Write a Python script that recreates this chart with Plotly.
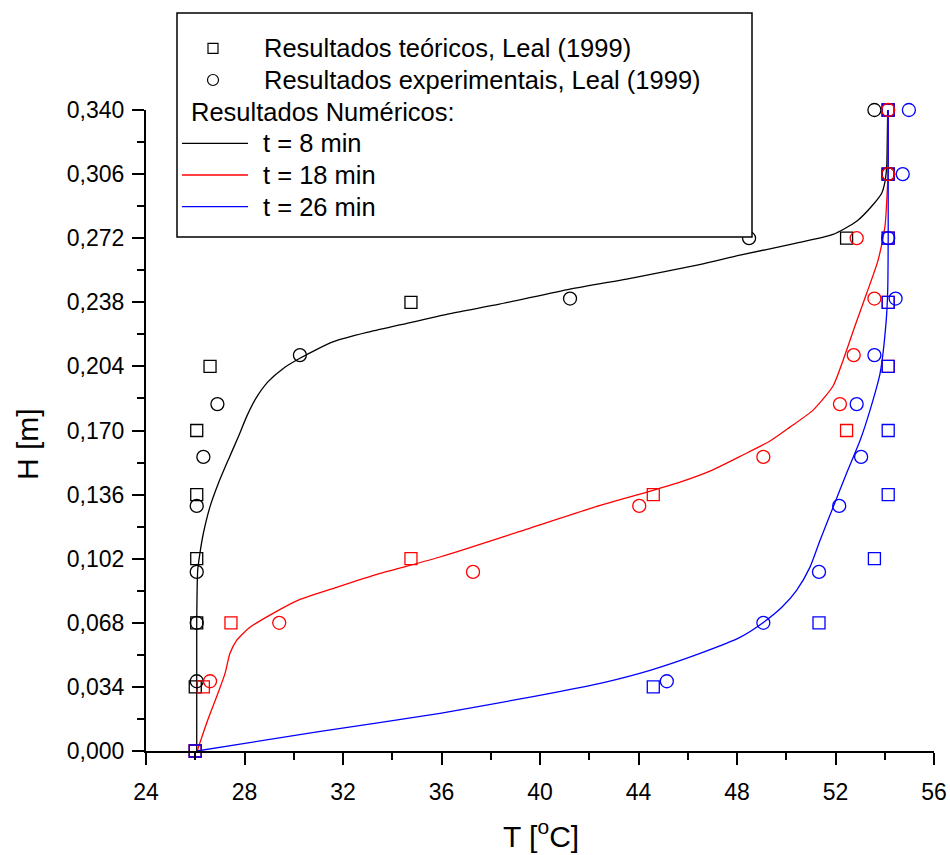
import plotly.graph_objects as go

# ---------------- data ----------------
x_ticks = [24, 28, 32, 36, 40, 44, 48, 52, 56]
x_tick_labels = ["24", "28", "32", "36", "40", "44", "48", "52", "56"]
y_ticks = [0.0, 0.034, 0.068, 0.102, 0.136, 0.170, 0.204, 0.238, 0.272, 0.306, 0.340]
y_tick_labels = ["0,000", "0,034", "0,068", "0,102", "0,136", "0,170",
                 "0,204", "0,238", "0,272", "0,306", "0,340"]

# theoretical results (squares), Leal (1999)
H_sq = [0.0, 0.034, 0.068, 0.102, 0.136, 0.170, 0.204, 0.238, 0.272, 0.306, 0.340]
T_sq_8 = [26.0, 26.0, 26.06, 26.06, 26.06, 26.06, 26.6, 34.76, 52.45, 54.14, 54.14]
T_sq_18 = [26.0, 26.33, 27.45, 34.76, 44.60, 52.45, 54.14, 54.14, 54.14, 54.14, 54.14]
T_sq_26 = [26.0, 44.60, 51.33, 53.58, 54.14, 54.14, 54.14, 54.14, 54.14, 54.14, 54.14]

# experimental results (circles), Leal (1999)
H_circ = [0.037, 0.068, 0.095, 0.130, 0.156, 0.184, 0.210, 0.240, 0.272, 0.306, 0.340]
T_circ_8 = [26.06, 26.06, 26.06, 26.06, 26.33, 26.90, 30.25, 41.22, 48.49, 54.14, 53.58]
T_circ_18 = [26.60, 29.41, 37.28, 44.03, 49.07, 52.18, 52.74, 53.58, 52.86, 54.14, 54.14]
T_circ_26 = [45.15, 49.07, 51.33, 52.15, 53.04, 52.86, 53.58, 54.44, 54.14, 54.73, 54.98]

# numerical results (lines)
T_num_8 = [26.06, 26.06, 26.10, 26.19, 26.33, 26.60, 26.94, 27.34, 27.75, 28.09, 28.45,
           28.95, 29.60, 30.25, 30.90, 31.59, 32.97, 34.31, 36.35, 38.35, 41.22, 43.78,
           46.48, 48.12, 50.27, 51.90, 52.86, 53.54, 53.88, 54.01, 54.08, 54.10, 54.12]
H_num_8 = [0.000, 0.068, 0.096, 0.1049, 0.1155, 0.1296, 0.142, 0.1544, 0.1667, 0.1775, 0.1868,
           0.1958, 0.2032, 0.2083, 0.2128, 0.2170, 0.2220, 0.226, 0.232, 0.237, 0.245, 0.251,
           0.258, 0.263, 0.269, 0.274, 0.281, 0.290, 0.296, 0.302, 0.310, 0.322, 0.340]

T_num_18 = [26.08, 26.46, 26.92, 27.21, 27.41, 27.68, 28.22, 29.16, 30.19, 31.74, 33.50,
            35.94, 39.19, 42.44, 44.34, 45.69, 46.90, 48.24, 49.34, 50.15, 51.09, 51.90,
            52.31, 52.79, 53.27, 53.73, 54.01, 54.10, 54.13, 54.14]
H_num_18 = [0.000, 0.0147, 0.0306, 0.0412, 0.0518, 0.0587, 0.0656, 0.073, 0.080, 0.0868, 0.0942,
            0.1029, 0.1165, 0.1303, 0.1373, 0.1426, 0.1484, 0.1570, 0.1644, 0.1718, 0.1808, 0.1936,
            0.2073, 0.2254, 0.2429, 0.2604, 0.2784, 0.2965, 0.3058, 0.340]

T_num_26 = [26.07, 30.95, 35.94, 39.20, 42.44, 44.47, 46.50, 48.12, 49.07, 49.82, 50.42,
            50.96, 51.37, 51.90, 52.45, 53.00, 53.40, 53.81, 54.05, 54.12, 54.14, 54.14]
H_num_26 = [0.000, 0.0101, 0.020, 0.0276, 0.0359, 0.0428, 0.0518, 0.0603, 0.0682, 0.0762, 0.0852,
            0.0974, 0.1117, 0.1292, 0.1473, 0.1648, 0.1807, 0.2003, 0.2268, 0.2443, 0.2724, 0.340]

BLACK = "#000000"
RED = "#FF0000"
BLUE = "#0000FF"
FONT = "Liberation Sans, Arial, sans-serif"

fig = go.Figure()

# lines
for T, H, c in [(T_num_8, H_num_8, BLACK), (T_num_18, H_num_18, RED), (T_num_26, H_num_26, BLUE)]:
    fig.add_trace(go.Scatter(x=T, y=H, mode="lines",
                             line=dict(color=c, width=1.3, shape="spline", smoothing=0.6),
                             showlegend=False, cliponaxis=False, hoverinfo="skip"))

# squares
for T, c in [(T_sq_8, BLACK), (T_sq_18, RED), (T_sq_26, BLUE)]:
    fig.add_trace(go.Scatter(x=T, y=H_sq, mode="markers",
                             marker=dict(symbol="square-open", size=12, color=c,
                                         line=dict(width=1.3, color=c)),
                             showlegend=False, cliponaxis=False))
# circles
for T, c in [(T_circ_8, BLACK), (T_circ_18, RED), (T_circ_26, BLUE)]:
    fig.add_trace(go.Scatter(x=T, y=H_circ, mode="markers",
                             marker=dict(symbol="circle-open", size=13, color=c,
                                         line=dict(width=1.3, color=c)),
                             showlegend=False, cliponaxis=False))

# ---------------- layout ----------------
ML, MR, MT, MB = 146, 16, 110, 104
W, Hh = 950, 855
PW, PH = W - ML - MR, Hh - MT - MB


def px(xp):
    return (xp - ML) / PW


def py(yp):
    return (Hh - MB - yp) / PH


shapes = []
annotations = []
# legend box
shapes.append(dict(type="rect", xref="paper", yref="paper",
                   x0=px(177), x1=px(752), y0=py(237), y1=py(13),
                   line=dict(color=BLACK, width=1.5), fillcolor="white", layer="above"))
rows = [48.3, 80, 111.7, 143.3, 175, 206.7]
# square symbol
shapes.append(dict(type="rect", xref="paper", yref="paper",
                   x0=px(208), x1=px(218), y0=py(rows[0] + 5), y1=py(rows[0] - 5),
                   line=dict(color=BLACK, width=1.2), layer="above"))
# circle symbol
shapes.append(dict(type="circle", xref="paper", yref="paper",
                   x0=px(207.5), x1=px(218.5), y0=py(rows[1] + 5.5), y1=py(rows[1] - 5.5),
                   line=dict(color=BLACK, width=1.2), layer="above"))
for r, c in zip(rows[3:], [BLACK, RED, BLUE]):
    shapes.append(dict(type="line", xref="paper", yref="paper",
                       x0=px(182), x1=px(248), y0=py(r), y1=py(r),
                       line=dict(color=c, width=1.3), layer="above"))

leg_texts = [("Resultados teóricos, Leal (1999)", 262),
             ("Resultados experimentais, Leal (1999)", 262),
             ("Resultados Numéricos:", 189),
             ("t = 8 min", 261), ("t = 18 min", 261), ("t = 26 min", 261)]
for (t, x0), r in zip(leg_texts, rows):
    annotations.append(dict(text=t, xref="paper", yref="paper", x=px(x0), y=py(r),
                            xanchor="left", yanchor="middle", showarrow=False,
                            font=dict(family=FONT, size=25.5, color=BLACK)))

# axis titles
annotations.append(dict(text="T [<sup>o</sup>C]", xref="paper", yref="paper",
                        x=px(541), y=py(834), xanchor="center", yanchor="middle",
                        showarrow=False, font=dict(family=FONT, size=30, color=BLACK)))
annotations.append(dict(text="H [m]", xref="paper", yref="paper",
                        x=px(27), y=py(444), xanchor="center", yanchor="middle",
                        textangle=-90, showarrow=False,
                        font=dict(family=FONT, size=30, color=BLACK)))

axis_common = dict(showline=True, linecolor=BLACK, linewidth=2, mirror=False,
                   ticks="outside", ticklen=12, tickwidth=2, tickcolor=BLACK,
                   showgrid=False, zeroline=False, automargin=False,
                   tickfont=dict(family=FONT, size=23, color=BLACK))

fig.update_layout(
    width=W, height=Hh,
    margin=dict(l=ML, r=MR, t=MT, b=MB, pad=0, autoexpand=False),
    paper_bgcolor="white", plot_bgcolor="white",
    showlegend=False,
    xaxis=dict(range=[24, 56], tickmode="array", tickvals=x_ticks, ticktext=x_tick_labels,
               minor=dict(dtick=2, tick0=24, ticks="outside", ticklen=7, tickwidth=2,
                          tickcolor=BLACK, showgrid=False),
               ticklabelstandoff=7, **axis_common),
    yaxis=dict(range=[0, 0.34], tickmode="array", tickvals=y_ticks, ticktext=y_tick_labels,
               minor=dict(dtick=0.017, tick0=0, ticks="outside", ticklen=7, tickwidth=2,
                          tickcolor=BLACK, showgrid=False),
               ticklabelstandoff=3, **axis_common),
    shapes=shapes, annotations=annotations,
)

fig.write_html("out.html")
